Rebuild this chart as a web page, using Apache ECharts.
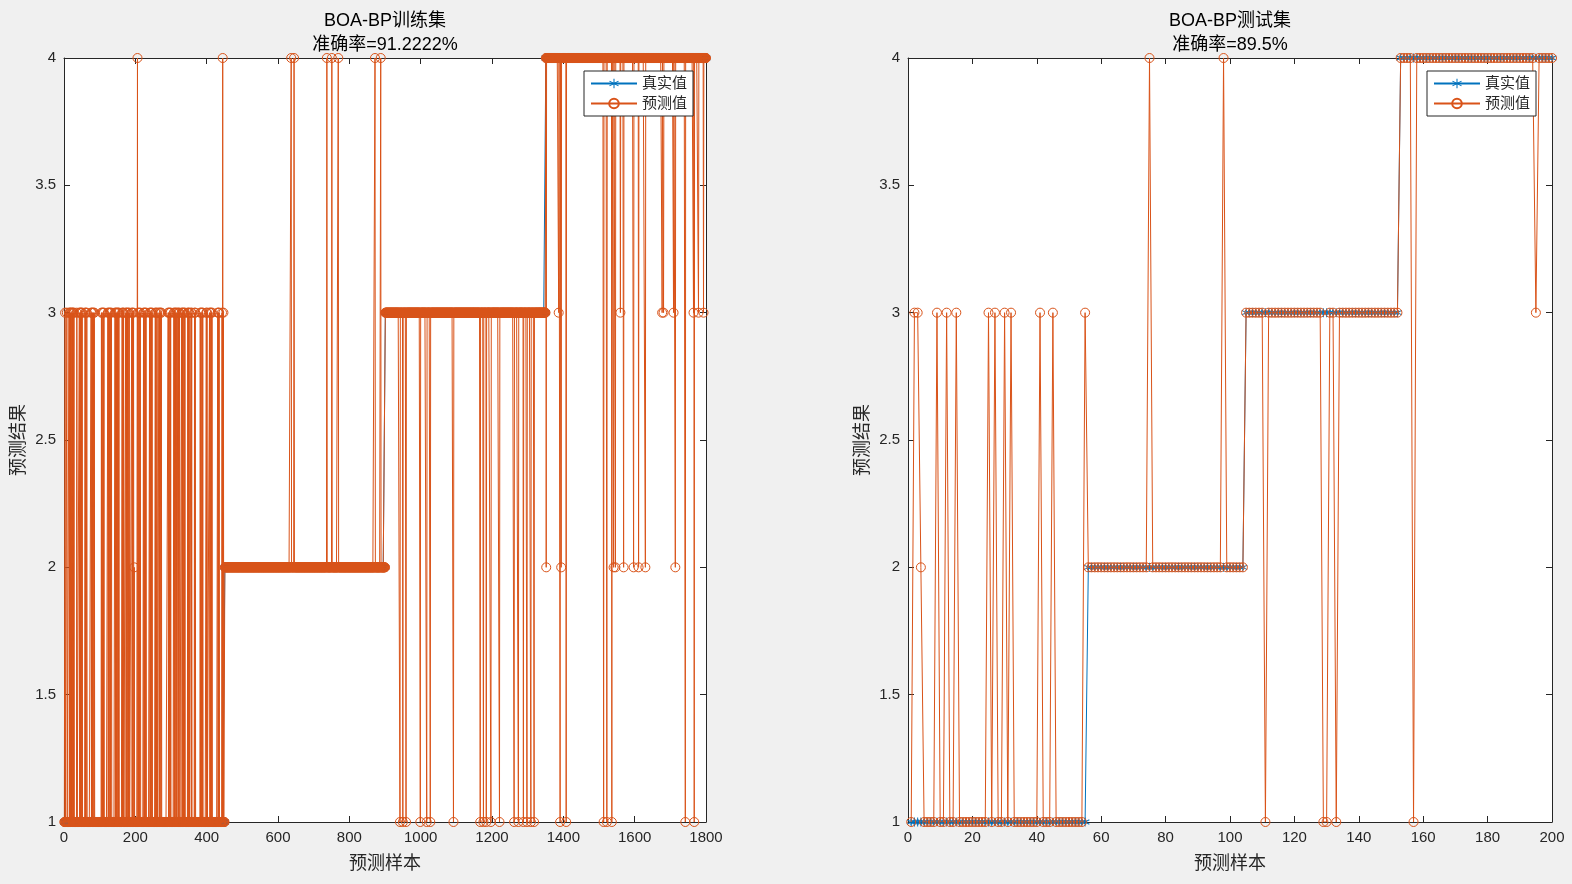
<!DOCTYPE html>
<html><head><meta charset="utf-8">
<script src="https://cdn.jsdelivr.net/npm/echarts@6/dist/echarts.min.js"></script>
<style>html,body{margin:0;padding:0;background:#f0f0f0;} #c{width:1572px;height:884px;}</style>
</head><body><div id="c"></div>
<script>
// ---------- data ----------
const trainTitle = 'BOA-BP训练集';
const trainAcc = '准确率=91.2222%';
const testTitle = 'BOA-BP测试集';
const testAcc = '准确率=89.5%';
const seriesNames = ['真实值', '预测值'];
const xName = '预测样本';
const yName = '预测结果';

// true class sizes (samples are ordered by class 1..4)
const trainClassSizes = [450, 450, 450, 450];
const testClassSizes = [55, 49, 48, 48];

// misclassified samples: index and predicted class
const trainErrIdx = [
  3, 8, 14, 16, 18, 20, 22, 24, 26, 28, 36, 43, 45, 47, 49, 51, 59, 61, 64,
  76, 78, 80, 83, 85, 105, 107, 110, 112, 123, 125, 128, 130, 133,
  143, 145, 147, 150, 152, 154, 163, 165, 167, 173, 175, 178, 180, 183,
  190, 192, 195, 197, 206, 208, 211, 214, 223, 225, 228, 230, 240, 242, 245, 247,
  256, 258, 261, 266, 268, 271, 273, 292, 294, 297, 299, 308, 310, 313, 315,
  319, 321, 324, 330, 332, 334, 337, 339, 347, 349, 351, 356, 358, 366, 368,
  382, 384, 387, 389, 399, 401, 408, 410, 413, 415, 431, 433, 435, 443, 445, 447,
  637, 645, 737, 751, 769, 872, 888,
  942, 950, 959, 999, 1017, 1027, 1092, 1167, 1176, 1184, 1197, 1221, 1262, 1274, 1288, 1298, 1309, 1318,
  1387, 1560, 1677, 1681, 1709, 1765, 1779, 1793,
  1352, 1394, 1541, 1546, 1569, 1597, 1611, 1630, 1714,
  1391, 1408, 1513, 1522, 1536, 1742, 1767
];
const trainErrPred = [
  3, 3, 3, 3, 3, 3, 3, 3, 3, 3, 3, 3, 3, 3, 3, 3, 3, 3, 3,
  3, 3, 3, 3, 3, 3, 3, 3, 3, 3, 3, 3, 3, 3,
  3, 3, 3, 3, 3, 3, 3, 3, 3, 3, 3, 3, 3, 3,
  3, 3, 3, 2, 4, 3, 3, 3, 3, 3, 3, 3, 3, 3, 3, 3,
  3, 3, 3, 3, 3, 3, 3, 3, 3, 3, 3, 3, 3, 3, 3,
  3, 3, 3, 3, 3, 3, 3, 3, 3, 3, 3, 3, 3, 3, 3,
  3, 3, 3, 3, 3, 3, 3, 3, 3, 3, 3, 3, 3, 3, 4, 3,
  4, 4, 4, 4, 4, 4, 4,
  1, 1, 1, 1, 1, 1, 1, 1, 1, 1, 1, 1, 1, 1, 1, 1, 1, 1,
  3, 3, 3, 3, 3, 3, 3, 3,
  2, 2, 2, 2, 2, 2, 2, 2, 2,
  1, 1, 1, 1, 1, 1, 1
];
const testErrIdx = [2, 3, 4, 9, 12, 15, 25, 27, 30, 32, 41, 45, 55, 75, 98, 111, 129, 130, 133, 157, 195];
const testErrPred = [3, 3, 2, 3, 3, 3, 3, 3, 3, 3, 3, 3, 3, 4, 4, 1, 1, 1, 1, 1, 3];

const trainXMax = 1800, trainXStep = 200;
const testXMax = 200, testXStep = 20;
const yMin = 1, yMax = 4, yStep = 0.5;

// ---------- build ----------
function buildTrue(sizes) {
  const out = []; let i = 1;
  sizes.forEach((s, c) => { for (let k = 0; k < s; k++) out.push([i++, c + 1]); });
  return out;
}
function buildPred(trueData, idx, pred) {
  const m = new Map(); idx.forEach((v, j) => m.set(v, pred[j]));
  return trueData.map(([x, y]) => [x, m.has(x) ? m.get(x) : y]);
}
const trainTrue = buildTrue(trainClassSizes);
const trainPred = buildPred(trainTrue, trainErrIdx, trainErrPred);
const testTrue = buildTrue(testClassSizes);
const testPred = buildPred(testTrue, testErrIdx, testErrPred);

const BLUE = '#0072BD', ORANGE = '#D95319', AX = '#262626';
const FONT = "'Liberation Sans', 'Noto Sans CJK SC', sans-serif";
const starPath = 'path://M-0.5,-5L0.5,-5L0.5,5L-0.5,5Z M4.08,2.933L4.58,2.067L-4.08,-2.933L-4.58,-2.067Z M4.08,-2.933L4.58,-2.067L-4.08,2.933L-4.58,2.067Z';

const grids = [
  { left: 64, top: 58, width: 642, height: 764 },
  { left: 908, top: 58, width: 644, height: 764 }
];
const xCfg = [[trainXMax, trainXStep], [testXMax, testXStep]];

function xAxes(g) {
  const [mx, st] = xCfg[g];
  const base = {
    gridIndex: g, type: 'value', min: 0, max: mx, interval: st,
    axisLine: { show: true, onZero: false, lineStyle: { color: AX, width: 1 } },
    axisTick: { show: true, inside: true, length: 6, lineStyle: { color: AX } },
    splitLine: { show: false }
  };
  return [
    Object.assign({}, base, {
      position: 'bottom',
      axisLabel: { color: AX, fontSize: 15, margin: 8, fontFamily: FONT, formatter: v => String(v) },
      name: xName, nameLocation: 'middle', nameGap: 33,
      nameTextStyle: { color: AX, fontSize: 18, fontFamily: FONT }
    }),
    Object.assign({}, base, { position: 'top', axisLabel: { show: false } })
  ];
}
function yAxes(g) {
  const base = {
    gridIndex: g, type: 'value', min: yMin, max: yMax, interval: yStep,
    axisLine: { show: true, onZero: false, lineStyle: { color: AX, width: 1 } },
    axisTick: { show: true, inside: true, length: 6, lineStyle: { color: AX } },
    splitLine: { show: false }
  };
  return [
    Object.assign({}, base, {
      position: 'left',
      axisLabel: { color: AX, fontSize: 15, margin: 8, fontFamily: FONT, formatter: v => String(v) },
      name: yName, nameLocation: 'middle', nameGap: 36, nameRotate: 90,
      nameTextStyle: { color: AX, fontSize: 18, fontFamily: FONT }
    }),
    Object.assign({}, base, { position: 'right', axisLabel: { show: false } })
  ];
}

function mkSeries(g, trueD, predD) {
  return [
    {
      name: seriesNames[0], type: 'line', xAxisIndex: g * 2, yAxisIndex: g * 2,
      data: trueD, symbol: starPath, symbolSize: 9,
      lineStyle: { color: BLUE, width: 1 }, itemStyle: { color: BLUE },
      animation: false, silent: true, z: 2
    },
    {
      name: seriesNames[1], type: 'line', xAxisIndex: g * 2, yAxisIndex: g * 2,
      data: predD, symbol: 'circle', symbolSize: 9,
      lineStyle: { color: ORANGE, width: 1 },
      itemStyle: { color: 'rgba(0,0,0,0)', borderColor: ORANGE, borderWidth: 1 },
      animation: false, silent: true, z: 3
    }
  ];
}

function mkLegend(left) {
  return {
    orient: 'vertical', left: left, top: 71,
    backgroundColor: '#fff', borderColor: AX, borderWidth: 1,
    padding: [5, 6, 5, 6], itemGap: 5, itemWidth: 46, itemHeight: 12,
    textStyle: { color: AX, fontSize: 15, fontFamily: FONT },
    data: seriesNames, selectedMode: false
  };
}
function mkTitle(cx, t, s) {
  return {
    text: t, subtext: s, left: cx, top: 12, textAlign: 'center', padding: 0, itemGap: 6,
    textStyle: { color: '#000', fontSize: 18, fontWeight: 'normal', fontFamily: FONT },
    subtextStyle: { color: '#000', fontSize: 18, fontFamily: FONT }
  };
}

const chart = echarts.init(document.getElementById('c'), null, { renderer: 'canvas' });
chart.setOption({
  backgroundColor: '#f0f0f0',
  animation: false,
  title: [mkTitle(385, trainTitle, trainAcc), mkTitle(1230, testTitle, testAcc)],
  legend: [mkLegend(584), mkLegend(1427)],
  grid: grids.map(g => Object.assign({ show: true, backgroundColor: '#fff', borderWidth: 0, containLabel: false }, g)),
  xAxis: xAxes(0).concat(xAxes(1)),
  yAxis: yAxes(0).concat(yAxes(1)),
  series: mkSeries(0, trainTrue, trainPred).concat(mkSeries(1, testTrue, testPred))
});
</script></body></html>
